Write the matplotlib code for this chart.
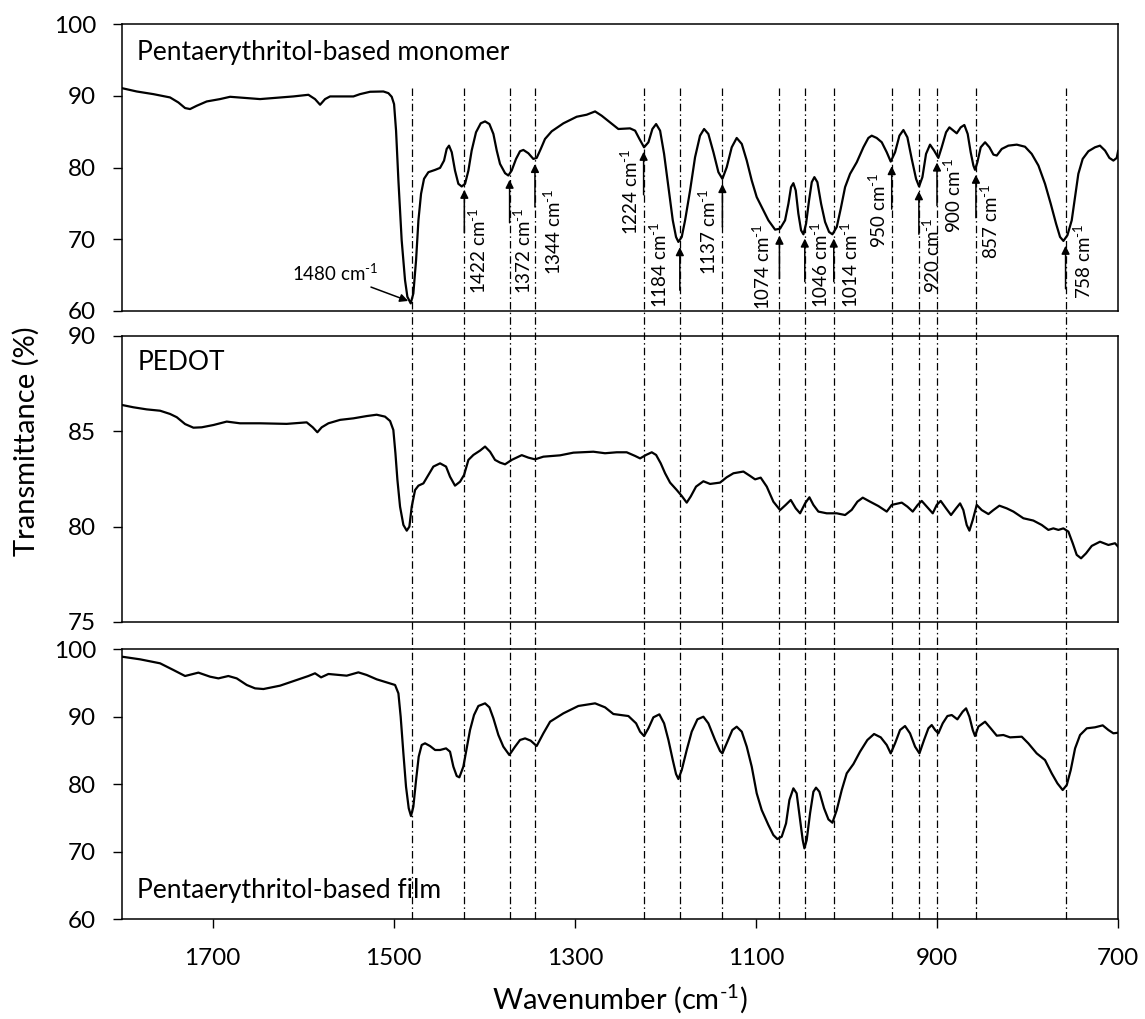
import matplotlib
matplotlib.use("Agg")
import matplotlib.pyplot as plt
from matplotlib.lines import Line2D
from matplotlib.transforms import blended_transform_factory

plt.rcParams['font.family'] = ['Lato', 'DejaVu Sans']
plt.rcParams['mathtext.fontset'] = 'custom'
plt.rcParams['mathtext.rm'] = 'Lato'
plt.rcParams['mathtext.it'] = 'Lato'
plt.rcParams['mathtext.default'] = 'regular'

SUP = '$^{\u2010' + '1}$'   # superscript "-1" drawn with a hyphen, as in the reference

# ---------------- data ----------------
wn_monomer = [1800, 1783.8, 1765.4, 1747, 1737.8, 1730.4, 1724.9, 1717.5, 1706.5, 1691.8, 1680.7, 1647.6,
              1610.8, 1594.2, 1586.9, 1581.3, 1575.8, 1570.3, 1544.5, 1537.2, 1526.1, 1511.4, 1505.9, 1502.2,
              1499.6, 1497.4, 1494.8, 1491.2, 1487.5, 1484.9, 1481.2, 1478.3, 1475.3, 1472.7, 1469.8, 1466.5,
              1461.7, 1454.3, 1448.8, 1444.4, 1441.5, 1438.9, 1435.9, 1432.3, 1428.6, 1424.9, 1421.2, 1417.5,
              1413.9, 1409.1, 1403.9, 1399.1, 1394.3, 1389.9, 1386.2, 1382.6, 1377.0, 1373.4, 1369.7, 1364.9,
              1360.5, 1356.8, 1351.3, 1345.8, 1342.1, 1337.6, 1332.9, 1325.5, 1312.6, 1297.9, 1286.9, 1277.6,
              1270.3, 1261.1, 1251.9, 1239.0, 1233.4, 1228.6, 1223.5, 1218.7, 1214.3, 1210.2, 1205.8, 1201.4,
              1196.6, 1191.8, 1188.2, 1185.6, 1181.9, 1178.2, 1172.7, 1167.2, 1161.7, 1157.2, 1152.5, 1146.9,
              1141.4, 1137.0, 1132.2, 1126.7, 1121.2, 1115.6, 1110.1, 1104.6, 1099.1, 1093.6, 1086.2, 1078.8,
              1073.3, 1067.8, 1064.1, 1061.2, 1058.6, 1056.0, 1053.1, 1050.1, 1047.5, 1044.6, 1041.3, 1038.3,
              1035.4, 1032.1, 1028.0, 1023.6, 1019.2, 1015.5, 1010.7, 1006.3, 1001.5, 996.0, 988.6, 981.3,
              975.8, 972.1, 966.6, 961.0, 955.5, 951.1, 946.3, 941.5, 937.1, 932.7, 927.9, 923.1, 919.8,
              916.1, 912.1, 907.7, 903.2, 898.5, 894.8, 890.0, 886.3, 881.9, 878.2, 873.8, 869.8, 866.1,
              862.8, 859.8, 858.0, 855.4, 851.7, 846.9, 842.1, 837.7, 834.0, 828.5, 821.2, 811.9, 802.8,
              795.4, 788.0, 780.7, 774.4, 768.5, 764.1, 760.4, 756.0, 751.2, 747.5, 743.9, 739.1, 732.8,
              725.5, 720.0, 714.4, 709.6, 705.2, 701.5, 700]
t_monomer = [91.06, 90.6, 90.23, 89.77, 89.07, 88.29, 88.15, 88.61, 89.21, 89.54, 89.86, 89.54,
             89.91, 90.14, 89.54, 88.75, 89.54, 89.91, 89.91, 90.23, 90.56, 90.6, 90.37, 89.86,
             88.84, 85.14, 78.19, 69.86, 64.30, 61.99, 61.06, 62.45, 67.08, 72.64, 76.34, 78.43,
             79.35, 79.67, 79.95, 80.97, 82.59, 83.05, 82.13, 79.58, 77.73, 77.36, 77.73, 79.58,
             82.36, 84.91, 86.16, 86.43, 86.06, 84.68, 82.36, 80.51, 79.21, 78.89, 79.58, 81.2,
             82.27, 82.45, 81.99, 81.2, 81.34, 82.59, 83.98, 85.05, 86.16, 87.08, 87.36, 87.82,
             87.22, 86.3, 85.37, 85.46, 85.14, 83.98, 82.82, 83.52, 85.37, 86.06, 85.14, 81.9,
             77.27, 72.64, 70.32, 69.63, 70.32, 72.64, 76.8, 81.43, 84.44, 85.37, 84.68, 82.13,
             79.35, 78.42, 80.05, 82.82, 84.12, 83.29, 80.97, 78.19, 75.88, 74.49, 72.64, 71.34,
             71.48, 72.64, 74.95, 77.27, 77.82, 76.8, 73.56, 71.25, 70.69, 72.17, 75.42, 77.96,
             78.66, 77.96, 74.95, 72.41, 71.02, 70.69, 71.71, 74.26, 77.27, 79.12, 80.74, 82.82,
             84.12, 84.44, 84.12, 83.52, 82.13, 80.83, 82.13, 84.44, 85.23, 84.21, 81.2, 78.42, 77.36,
             78.66, 81.9, 83.19, 82.36, 81.34, 82.82, 84.91, 85.6, 85.14, 84.77, 85.6, 85.93, 84.68,
             82.13, 80.28, 79.68, 80.74, 82.82, 83.52, 82.82, 81.8, 81.67, 82.59, 83.05, 83.19, 82.9,
             81.9, 80.28, 77.73, 74.95, 72.17, 70.32, 69.77, 70.55, 72.64, 75.88, 79.12, 81.2, 82.27,
             82.82, 83.05, 82.36, 81.34, 80.97, 81.34, 82.3]

wn_pedot = [1800, 1787.5, 1772.8, 1758, 1747, 1739.6, 1730.4, 1721.2, 1712, 1699.1, 1684.4, 1669.7, 1647.6,
            1618.2, 1596.1, 1589.4, 1584.3, 1579.5, 1572.1, 1559.2, 1544.5, 1529.8, 1518.8, 1509.6, 1504.0,
            1500.4, 1498.1, 1495.9, 1493.0, 1489.3, 1485.6, 1482.7, 1480.1, 1476.4, 1472.7, 1467.2, 1461.7,
            1456.2, 1448.8, 1442.2, 1437.8, 1432.3, 1426.7, 1422.3, 1417.5, 1412, 1404.6, 1399.1, 1393.6,
            1388.1, 1382.6, 1377.0, 1369.7, 1358.6, 1351.3, 1343.9, 1334.7, 1316.3, 1301.6, 1279.5, 1266.6,
            1253.7, 1242.7, 1233.5, 1227.9, 1221.3, 1215.0, 1210.2, 1205.1, 1200.3, 1194.8, 1187.4, 1181.9,
            1176.4, 1172, 1166.1, 1158, 1150.6, 1139.6, 1132.2, 1124.8, 1113.8, 1106.4, 1100.9, 1094.7,
            1088.0, 1080.7, 1073.3, 1067.1, 1061.5, 1056.0, 1051.2, 1045.7, 1040.9, 1036.5, 1031, 1021.8,
            1010.7, 1001.5, 994.2, 987.9, 982.0, 973.9, 964.7, 955.5, 950.0, 938.9, 932.7, 926.8, 921.3,
            916.9, 911.3, 904.7, 900.3, 895.9, 890, 884.5, 878.9, 874.5, 870.9, 867.2, 864.2, 860.5, 856.1,
            850.6, 843.2, 837.7, 831.1, 823, 815.6, 804.6, 793.6, 784.4, 777.0, 771.5, 765.9, 760.4, 754.9,
            750.1, 745.7, 740.9, 735.4, 729.1, 720.0, 710.7, 703.4, 700]
t_pedot = [86.38, 86.26, 86.15, 86.08, 85.91, 85.74, 85.38, 85.19, 85.21, 85.33, 85.51, 85.42, 85.42,
           85.39, 85.47, 85.21, 84.95, 85.21, 85.42, 85.6, 85.68, 85.8, 85.87, 85.77, 85.54,
           85.07, 83.85, 82.45, 81.05, 80.09, 79.79, 80.0, 81.05, 81.92, 82.15, 82.27, 82.71,
           83.15, 83.32, 83.15, 82.62, 82.15, 82.36, 82.71, 83.5, 83.76, 83.99, 84.2, 83.93,
           83.5, 83.36, 83.27, 83.5, 83.75, 83.62, 83.53, 83.67, 83.74, 83.88, 83.93, 83.85,
           83.9, 83.9, 83.71, 83.58, 83.76, 83.9, 83.76, 83.32, 82.8, 82.31, 81.92, 81.61,
           81.26, 81.58, 82.1, 82.38, 82.24, 82.31, 82.59, 82.8, 82.89, 82.66, 82.48, 82.57,
           82.1, 81.31, 80.87, 81.14, 81.4, 80.96, 80.7, 81.22, 81.54, 81.14, 80.79, 80.7,
           80.7, 80.61, 80.88, 81.31, 81.52, 81.31, 81.08, 80.79, 81.14, 81.26, 81.05, 80.79, 81.14,
           81.35, 81.05, 80.7, 81.14, 81.35, 80.96, 80.61, 80.96, 81.22, 80.87, 80.09, 79.79, 80.35, 81.14,
           80.87, 80.66, 80.87, 81.1, 80.96, 80.79, 80.44, 80.32, 80.09, 79.83, 79.91, 79.83, 79.91, 79.74,
           79.13, 78.52, 78.34, 78.6, 78.99, 79.21, 79.04, 79.13, 78.95]

wn_film = [1800, 1780.1, 1758, 1743.3, 1730.4, 1715.7, 1702.8, 1693.6, 1682.6, 1673.4, 1662.3, 1653.1, 1643.9,
           1625.5, 1607.1, 1594.2, 1586.9, 1580.2, 1572.1, 1551.9, 1539.0, 1529.8, 1518.8, 1507.7, 1498.5,
           1494.8, 1492.3, 1489.3, 1486.4, 1483.4, 1480.9, 1478.3, 1475.3, 1472.4, 1469.1, 1465.4, 1459.9,
           1454.3, 1448.8, 1442.2, 1437.8, 1434.1, 1430.4, 1427.5, 1423.1, 1419.4, 1415.7, 1411.3, 1406.5,
           1399.1, 1394.3, 1389.9, 1384.4, 1378.9, 1372.3, 1366, 1360.5, 1354.9, 1348.7, 1342.1, 1334.7,
           1327.3, 1312.6, 1296.1, 1277.6, 1266.6, 1257.4, 1240.8, 1232.3, 1227.9, 1223.5, 1218.7, 1213.2,
           1206.6, 1201.4, 1196.6, 1191.8, 1188.2, 1185.6, 1181.9, 1176.4, 1170.9, 1164.6, 1158, 1152.5,
           1145.1, 1139.6, 1137.0, 1131.5, 1126, 1121.2, 1115.6, 1110.1, 1104.6, 1099.1, 1093.6, 1086.2,
           1080.7, 1076.3, 1071.5, 1066.7, 1063, 1058.6, 1055, 1051.2, 1048.3, 1046.4, 1043.9, 1040.2,
           1036.5, 1033.6, 1029.9, 1024.7, 1019.9, 1015.5, 1010.7, 1005.2, 999.7, 992.3, 985.0, 976.9,
           969.5, 962.1, 955.5, 951.1, 946.3, 940.8, 935.3, 929.8, 924.2, 919.4, 914.3, 909.5, 905.8,
           902.1, 898.5, 893.7, 888.5, 883.7, 877.5, 871.6, 867.9, 864.2, 860.5, 858.0, 854.3, 846.9,
           840.7, 834.0, 826.7, 819.3, 806.4, 799.1, 789.9, 780.7, 773.3, 767.0, 761.2, 756.7, 752.3,
           747.5, 742, 734.6, 725.5, 717.0, 710.7, 705.2, 700]
t_film = [98.86, 98.47, 97.88, 96.89, 96.0, 96.5, 95.9, 95.65, 96.0, 95.65, 94.67, 94.17, 94.07,
          94.57, 95.41, 96.0, 96.4, 95.8, 96.3, 96.05, 96.54, 96.15, 95.51, 95.06, 94.67,
          93.43, 89.97, 84.54, 79.6, 76.4, 75.26, 76.64, 80.59, 84.05, 85.78, 86.03, 85.63,
          85.04, 85.04, 85.28, 84.79, 82.57, 81.19, 80.99, 82.57, 85.28, 88.0, 90.22, 91.56,
          91.95, 91.36, 89.73, 87.26, 85.53, 84.3, 85.53, 86.52, 86.76, 86.42, 85.63, 87.51,
          89.23, 90.47, 91.56, 91.95, 91.36, 90.37, 90.07, 88.99, 87.75, 87.11, 88.25, 89.88,
          90.32, 88.99, 86.52, 83.55, 81.48, 80.74, 82.07, 85.04, 87.75, 89.58, 89.97, 88.99,
          86.52, 84.89, 84.54, 86.27, 88.0, 88.49, 87.75, 85.53, 82.57, 78.62, 76.15, 73.93,
          72.44, 71.85, 72.2, 74.17, 77.63, 79.36, 78.62, 74.67, 71.7, 70.47, 71.7, 75.65,
          78.86, 79.46, 78.86, 76.4, 74.76, 74.27, 76.15, 79.11, 81.58, 82.96, 84.79, 86.52,
          87.41, 86.91, 85.78, 84.54, 86.03, 88.0, 88.59, 87.51, 85.53, 84.54, 86.52, 88.25, 88.74,
          88.0, 87.51, 88.99, 90.07, 90.22, 89.58, 90.72, 91.21, 89.97, 88.0, 87.11, 88.5, 89.23,
          88.25, 87.16, 87.26, 86.91, 87.01, 86.02, 84.54, 83.55, 81.58, 80.1, 79.11, 79.85, 82.07,
          85.28, 87.26, 88.25, 88.4, 88.69, 88.0, 87.51, 87.6]

peaks = [1480, 1422, 1372, 1344, 1224, 1184, 1137, 1074, 1046, 1014, 950, 920, 900, 857, 758]
# arrow tips (transmittance) for the labelled monomer bands (excluding 1480)
arrow_tips = [76.9, 78.3, 80.5, 82.2, 68.9, 77.7, 70.5, 70.1, 70.1, 80.2, 76.7, 80.7, 79.0, 69.1]
# label anchor (x of label centre, y of label top)
label_x = [1407, 1357, 1324, 1239, 1207, 1153, 1093, 1029, 996, 965, 905.5, 882, 841, 739]
label_top = [74.4, 74.4, 77.1, 82.6, 72.4, 77.1, 72.2, 72.4, 72.4, 79.3, 73.1, 81.4, 77.8, 72.2]

# ---------------- figure ----------------
fig = plt.figure(figsize=(11.45, 10.19), dpi=100)
L, W = 0.1066, 0.8699
ax1 = fig.add_axes([L, 0.6948, W, 0.2816])
ax2 = fig.add_axes([L, 0.3896, W, 0.2807])
ax3 = fig.add_axes([L, 0.0981, W, 0.2650])

lw_curve = 1.6
ax1.plot(wn_monomer, t_monomer, color='black', lw=lw_curve, zorder=3, solid_joinstyle='round')
ax2.plot(wn_pedot, t_pedot, color='black', lw=lw_curve, zorder=3, solid_joinstyle='round')
ax3.plot(wn_film, t_film, color='black', lw=lw_curve, zorder=3, solid_joinstyle='round')

ylims = [(60, 100), (75, 90), (60, 100)]
yticks = [[60, 70, 80, 90, 100], [75, 80, 85, 90], [60, 70, 80, 90, 100]]
for ax, yl, yt in zip([ax1, ax2, ax3], ylims, yticks):
    ax.set_xlim(1800, 700)
    ax.set_ylim(*yl)
    ax.set_yticks(yt)
    ax.set_xticks([1700, 1500, 1300, 1100, 900, 700])
    ax.tick_params(axis='y', direction='out', length=6.5, width=1.0, labelsize=17.5, pad=12)
    ax.tick_params(axis='x', direction='out', length=6.5, width=1.0, labelsize=17.5, pad=14)
    for s in ax.spines.values():
        s.set_linewidth(1.1)
for ax in [ax1, ax2]:
    ax.tick_params(axis='x', length=0, labelbottom=False)

ax1.text(1783, 96.1, 'Pentaerythritol-based monomer', fontsize=19, va='center', ha='left')
ax2.text(1783, 88.6, 'PEDOT', fontsize=19, va='center', ha='left')
ax3.text(1783, 64.2, 'Pentaerythritol-based film', fontsize=19, va='center', ha='left')

ax3.set_xlabel('Wavenumber (cm' + SUP + ')', fontsize=21, labelpad=10)
fig.text(0.023, 0.567, 'Transmittance (%)', rotation=90, fontsize=21, ha='center', va='center')

# vertical dash-dot lines across all panels
tr = blended_transform_factory(ax3.transData, fig.transFigure)
for p in peaks:
    fig.add_artist(Line2D([p, p], [0.0981, 0.9146], transform=tr, color='black', lw=0.9,
                          linestyle=(0, (6, 2.5, 1.2, 2.5)), zorder=1))

# annotations on the monomer panel
ax1.annotate('1480 cm' + SUP, xy=(1484, 61.4), xytext=(1517, 65.2), fontsize=13.5,
             ha='right', va='center',
             arrowprops=dict(arrowstyle='-|>', color='black', lw=1.1, mutation_scale=12,
                             shrinkA=0, shrinkB=0))
for p, tip, lx, lt in zip(peaks[1:], arrow_tips, label_x, label_top):
    ax1.annotate('', xy=(p, tip), xytext=(p, tip - 6),
                 arrowprops=dict(arrowstyle='-|>', color='black', lw=1.1, mutation_scale=12,
                                 shrinkA=0, shrinkB=0))
    ax1.text(lx, lt, f'{p} cm' + SUP, rotation=90, ha='center', va='top', fontsize=13.5)

fig.savefig('out.png', dpi=100)
